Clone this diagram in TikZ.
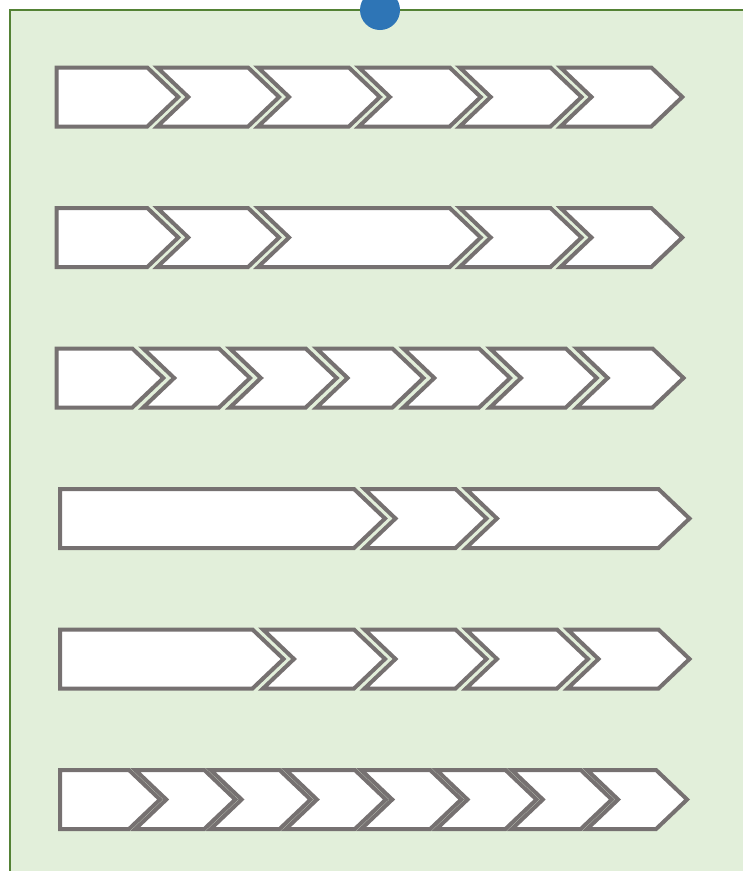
\documentclass[tikz,border=0pt]{standalone}
\definecolor{bgfill}{HTML}{E2EFDA}
\definecolor{bgline}{HTML}{548235}
\definecolor{shapeline}{HTML}{767171}
\definecolor{dotblue}{HTML}{2E75B6}
\tikzset{
  shp/.style={draw=shapeline, fill=white, line width=4pt, line join=miter},
  panel/.style={draw=bgline, fill=bgfill, line width=2pt},
  topdot/.style={fill=dotblue, draw=none}
}
% #1 = left x, #2 = top width, #3 = centre y
\newcommand{\pentshape}[3]{\draw[shp] (#1,{#3-29.5}) -- ++(#2,0) -- ++(31,29.5) -- ++(-31,29.5) -- ++(-#2,0) -- cycle;}
\newcommand{\chevshape}[3]{\draw[shp] (#1,{#3-29.5}) -- ++(#2,0) -- ++(31,29.5) -- ++(-31,29.5) -- ++(-#2,0) -- ++(31,-29.5) -- cycle;}
\begin{document}
\begin{tikzpicture}[x=1pt,y=-1pt]
\useasboundingbox (0,0) rectangle (743,871);
\clip (0,0) rectangle (743,871);
\draw[panel] (10,10) rectangle (760,890);
\fill[topdot] (380,10) circle (20);
% row 1
\pentshape{56.5}{90.8}{97}
\foreach \x in {157.3,258.1,358.9,459.7,560.5}{\chevshape{\x}{90.8}{97}}
% row 2
\pentshape{56.5}{90.8}{237.5}
\chevshape{157.3}{90.8}{237.5}
\chevshape{258.1}{191.6}{237.5}
\chevshape{459.7}{90.8}{237.5}
\chevshape{560.5}{90.8}{237.5}
% row 3
\pentshape{56.5}{75.8}{378}
\foreach \x in {143.2,229.9,316.6,403.3,490,576.7}{\chevshape{\x}{75.8}{378}}
% row 4
\pentshape{60}{294}{518.5}
\chevshape{364.5}{91}{518.5}
\chevshape{466}{192.5}{518.5}
% row 5
\pentshape{60}{192.5}{659}
\foreach \x in {263,364.5,466,567.5}{\chevshape{\x}{91}{659}}
% row 6
\pentshape{60}{69}{799.5}
\foreach \x in {135.3,210.6,285.9,361.2,436.5,511.8,587.1}{\chevshape{\x}{69}{799.5}}
\end{tikzpicture}
\end{document}
